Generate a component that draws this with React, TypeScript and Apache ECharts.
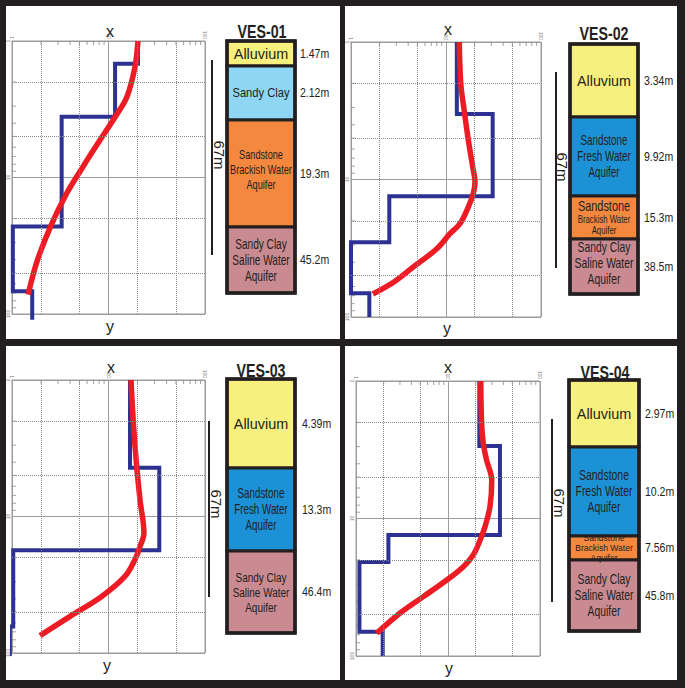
import React, { useEffect, useRef } from 'react';
import * as echarts from 'echarts';

// ---------------- DATA ----------------
const vesTitles = ['VES-01', 'VES-02', 'VES-03', 'VES-04'];
const scaleLabel = '67m';
const axisNameTop = 'x';
const axisNameBottom = 'y';

// lithology columns (top to bottom)
const ves01Layers = [['Alluvium'], ['Sandy Clay'], ['Sandstone', 'Brackish Water', 'Aquifer'], ['Sandy Clay', 'Saline Water', 'Aquifer']];
const ves01Types = ['alluvium', 'clay', 'brackish', 'saline'];
const ves01Thickness = ['1.47m', '2.12m', '19.3m', '45.2m'];

const ves02Layers = [['Alluvium'], ['Sandstone', 'Fresh Water', 'Aquifer'], ['Sandstone', 'Brackish Water', 'Aquifer'], ['Sandy Clay', 'Saline Water', 'Aquifer']];
const ves02Types = ['alluvium', 'fresh', 'brackish', 'saline'];
const ves02Thickness = ['3.34m', '9.92m', '15.3m', '38.5m'];

const ves03Layers = [['Alluvium'], ['Sandstone', 'Fresh Water', 'Aquifer'], ['Sandy Clay', 'Saline Water', 'Aquifer']];
const ves03Types = ['alluvium', 'fresh', 'saline'];
const ves03Thickness = ['4.39m', '13.3m', '46.4m'];

const ves04Layers = [['Alluvium'], ['Sandstone', 'Fresh Water', 'Aquifer'], ['Sandstone', 'Brackish Water', 'Aquifer'], ['Sandy Clay', 'Saline Water', 'Aquifer']];
const ves04Types = ['alluvium', 'fresh', 'brackish', 'saline'];
const ves04Thickness = ['2.97m', '10.2m', '7.56m', '45.8m'];

// interpreted model (blue): layer resistivity and depth of layer tops (+ bottom end)
const ves01Rho = [20.2, 11.7, 3.27, 1.02, 1.62];
const ves01Depth = [1, 1.47, 3.59, 22.9, 68.1, 110];
const ves02Rho = [13, 31, 2.53, 1.0, 1.56];
const ves02Depth = [1, 3.34, 13.26, 28.56, 67.06, 100];
const ves03Rho = [16.7, 33.6, 1.03, 0.95];
const ves03Depth = [1, 4.39, 17.69, 64, 105];
const ves04Rho = [21.9, 36.7, 2.25, 1.09, 1.95];
const ves04Depth = [1, 2.97, 13.17, 20.73, 66.53, 100];

// field curve (red)
const ves01CurveX = [20.2, 18.8, 15.5, 11.7, 8.2, 5.4, 3.7, 2.5, 1.8, 1.47];
const ves01CurveY = [1.0, 1.55, 2.57, 3.6, 5.3, 8.4, 13, 23, 42, 72];
const ves02CurveX = [13.8, 14.3, 15.5, 17.2, 19.1, 20.2, 19.4, 17.2, 14, 11, 8, 4.5, 2.8, 1.7];
const ves02CurveY = [1.0, 2.0, 3.1, 5.2, 8.1, 10.4, 12.6, 15.8, 21, 24.8, 31.9, 43.4, 55.9, 68];
const ves03CurveX = [17.1, 18.1, 19.6, 21.2, 23.3, 21.2, 18.8, 14.8, 8.5, 4.0, 1.95];
const ves03CurveY = [1.0, 2.07, 4.3, 7.55, 13.2, 16.6, 20.7, 27.5, 38.5, 53.9, 74.6];
const ves04CurveX = [22.7, 23.2, 24.2, 26.3, 29.9, 28.6, 25.2, 22.3, 18.8, 14.7, 9.7, 5.4, 3.0, 1.68];
const ves04CurveY = [1.0, 2.04, 2.85, 3.77, 5.26, 8.2, 11.5, 14.4, 18.4, 22.4, 28, 37, 48.9, 68.3];

// axis tick values
const axisMin = 1;
const axisMax = 100;
const dottedGrid = [2, 5, 20, 50];
const minorTicks = [2, 3, 4, 5, 6, 7, 8, 9, 20, 30, 40, 50, 60, 70, 80, 90];

// ---------------- STYLE / LAYOUT ----------------
const layerColors: Record<string, string> = {
  alluvium: '#f8f07e',
  clay: '#8fd6f4',
  brackish: '#f5883f',
  saline: '#c98a91',
  fresh: '#1d91d6',
};
const INK = '#231f20';
const GRIDC = '#9c9c9c';
const SANS = "'Liberation Sans', Arial, sans-serif";

const grids = [
  { left: 12, top: 41, width: 193, height: 273 },
  { left: 351, top: 42, width: 190, height: 275 },
  { left: 12, top: 380, width: 193, height: 273 },
  { left: 356, top: 381, width: 184, height: 275 },
];

// sizes: font size per line; sx: horizontal compression of each box label
const columnLayout = [
  {
    x: 227, w: 68, bounds: [41, 66, 120, 227, 293],
    sizes: [[15], [13], [13.5, 13.5, 13.5], [14, 14, 14]], sx: [0.96, 0.86, 0.68, 0.72], dy: [0, 0, -4, 0],
    thickX: 300, title: [262, 31], bar: [212, 60, 255], barLabel: [219, 155], xLab: [110, 31], yLab: [110, 326],
  },
  {
    x: 570, w: 68, bounds: [44, 117, 196, 239, 294],
    sizes: [[15], [14, 14, 14], [14, 10, 10], [14, 14, 14]], sx: [0.95, 0.7, 0.78, 0.74], dy: [0, 0, 0, -3],
    thickX: 644, title: [604, 33], bar: [556, 72, 268], barLabel: [562, 167], xLab: [448, 29], yLab: [447, 328],
  },
  {
    x: 227, w: 68, bounds: [379, 468, 551, 633],
    sizes: [[15], [14, 14, 14], [13.5, 13.5, 13.5]], sx: [0.96, 0.7, 0.74], dy: [0, 0, 0],
    thickX: 302, title: [261, 370], bar: [209, 421, 597], barLabel: [216, 504], xLab: [111, 367], yLab: [107, 665],
  },
  {
    x: 569, w: 70, bounds: [380, 447, 536, 560, 631],
    sizes: [[15], [14.5, 14.5, 14.5], [9, 9, 9], [14, 14, 14]], sx: [0.96, 0.72, 0.95, 0.74], dy: [0, 0, 0, 0],
    thickX: 645, title: [605, 372], bar: [552, 419, 602], barLabel: [559, 503], xLab: [448, 367], yLab: [449, 668],
  },
];

const panels = [
  { layers: ves01Layers, types: ves01Types, thick: ves01Thickness, rho: ves01Rho, depth: ves01Depth, cx: ves01CurveX, cy: ves01CurveY },
  { layers: ves02Layers, types: ves02Types, thick: ves02Thickness, rho: ves02Rho, depth: ves02Depth, cx: ves02CurveX, cy: ves02CurveY },
  { layers: ves03Layers, types: ves03Types, thick: ves03Thickness, rho: ves03Rho, depth: ves03Depth, cx: ves03CurveX, cy: ves03CurveY },
  { layers: ves04Layers, types: ves04Types, thick: ves04Thickness, rho: ves04Rho, depth: ves04Depth, cx: ves04CurveX, cy: ves04CurveY },
];

function buildOption() {
  const xAxis: any[] = [];
  const yAxis: any[] = [];
  const series: any[] = [];
  const graphic: any[] = [];

  panels.forEach((p, i) => {
    const axisCommon = {
      type: 'log',
      logBase: 10,
      min: axisMin,
      max: axisMax,
      gridIndex: i,
      axisLine: { show: true, lineStyle: { color: GRIDC, width: 1 } },
      axisTick: { show: false },
      axisLabel: { show: true, fontSize: 5, color: '#777', rotate: 90, margin: 2, fontFamily: SANS },
      splitLine: { show: true, lineStyle: { color: GRIDC, width: 1 } },
    };
    xAxis.push({ ...axisCommon, position: 'top' });
    yAxis.push({ ...axisCommon, inverse: true, position: 'left' });

    // dotted grid lines + minor ticks
    series.push({
      type: 'scatter',
      xAxisIndex: i,
      yAxisIndex: i,
      data: minorTicks.map((v) => [v, axisMin]),
      symbol: 'rect',
      symbolSize: [1, 4],
      symbolOffset: [0, 2],
      itemStyle: { color: '#8a8a8a' },
      silent: true,
      z: 1,
      markLine: {
        silent: true,
        symbol: ['none', 'none'],
        label: { show: false },
        lineStyle: { type: 'dotted', color: '#8a8a8a', width: 1 },
        data: dottedGrid.map((v) => ({ xAxis: v })).concat(dottedGrid.map((v) => ({ yAxis: v })) as any),
      },
    });
    series.push({
      type: 'scatter',
      xAxisIndex: i,
      yAxisIndex: i,
      data: minorTicks.map((v) => [axisMin, v]),
      symbol: 'rect',
      symbolSize: [4, 1],
      symbolOffset: [2, 0],
      itemStyle: { color: '#8a8a8a' },
      silent: true,
      z: 1,
    });

    // interpreted layered model (blue steps)
    series.push({
      type: 'line',
      xAxisIndex: i,
      yAxisIndex: i,
      step: 'start',
      data: p.depth.map((d, k) => [p.rho[Math.min(k, p.rho.length - 1)], d]),
      showSymbol: false,
      clip: false,
      lineStyle: { color: '#2c3192', width: 4, join: 'miter' },
      z: 3,
      silent: true,
    });
    // field curve (red)
    series.push({
      type: 'line',
      xAxisIndex: i,
      yAxisIndex: i,
      smooth: 0.35,
      data: p.cx.map((x, k) => [x, p.cy[k]]),
      showSymbol: false,
      clip: false,
      lineStyle: { color: '#ed1c24', width: 5.5, cap: 'butt' },
      z: 4,
      silent: true,
    });

    // lithology column
    const L = columnLayout[i];
    p.layers.forEach((lines, k) => {
      const y0 = L.bounds[k];
      const y1 = L.bounds[k + 1];
      graphic.push({
        type: 'rect',
        shape: { x: L.x, y: y0, width: L.w, height: y1 - y0 },
        style: { fill: layerColors[p.types[k]], stroke: INK, lineWidth: 3 },
        z: 10,
      });
      const sizes = L.sizes[k];
      const rich: any = {};
      const txt = lines
        .map((ln, j) => {
          const key = 's' + j;
          rich[key] = { fontSize: sizes[j], fontFamily: SANS, fill: INK, lineHeight: Math.round(sizes[j] * 1.12) };
          return `{${key}|${ln}}`;
        })
        .join('\n');
      graphic.push({
        type: 'text',
        x: L.x + L.w / 2,
        y: (y0 + y1) / 2 + L.dy[k],
        scaleX: L.sx[k],
        style: { text: txt, rich, textAlign: 'center', textVerticalAlign: 'middle', fill: INK },
        z: 11,
      });
      graphic.push({
        type: 'text',
        x: L.thickX,
        y: (y0 + y1) / 2,
        scaleX: 0.78,
        style: { text: p.thick[k], fontSize: 13.5, fontFamily: SANS, fill: INK, textAlign: 'left', textVerticalAlign: 'middle' },
        z: 11,
      });
    });
    graphic.push({
      type: 'rect',
      shape: { x: L.x, y: L.bounds[0], width: L.w, height: L.bounds[L.bounds.length - 1] - L.bounds[0] },
      style: { fill: 'none', stroke: INK, lineWidth: 3.5 },
      z: 12,
    });
    // title
    graphic.push({
      type: 'text',
      x: L.title[0],
      y: L.title[1],
      scaleX: 0.77,
      style: { text: vesTitles[i], fontSize: 18.5, fontWeight: 'bold', fontFamily: SANS, fill: INK, textAlign: 'center', textVerticalAlign: 'middle' },
      z: 13,
    });
    // scale bar
    graphic.push({
      type: 'line',
      shape: { x1: L.bar[0], y1: L.bar[1], x2: L.bar[0], y2: L.bar[2] },
      style: { stroke: INK, lineWidth: 2 },
      z: 10,
    });
    graphic.push({
      type: 'text',
      x: L.barLabel[0],
      y: L.barLabel[1],
      rotation: -Math.PI / 2,
      style: { text: scaleLabel, fontSize: 15, fontFamily: SANS, fill: INK, textAlign: 'center', textVerticalAlign: 'middle' },
      z: 10,
    });
    // axis names
    graphic.push({
      type: 'text',
      x: L.xLab[0],
      y: L.xLab[1],
      style: { text: axisNameTop, fontSize: 16, fontFamily: SANS, fill: INK, textAlign: 'center', textVerticalAlign: 'middle' },
      z: 10,
    });
    graphic.push({
      type: 'text',
      x: L.yLab[0],
      y: L.yLab[1],
      style: { text: axisNameBottom, fontSize: 16, fontFamily: SANS, fill: INK, textAlign: 'center', textVerticalAlign: 'middle' },
      z: 10,
    });
  });

  // frames
  const frames = [
    [0, 0, 6, 688],
    [0, 0, 685, 6],
    [677, 0, 8, 688],
    [0, 680, 685, 8],
    [340, 0, 5, 688],
    [0, 339, 685, 7],
  ];
  frames.forEach((f) => {
    graphic.push({ type: 'rect', shape: { x: f[0], y: f[1], width: f[2], height: f[3] }, style: { fill: INK }, z: 20 });
  });

  return {
    animation: false,
    backgroundColor: '#ffffff',
    grid: grids.map((g) => ({ ...g, show: true, borderColor: GRIDC, borderWidth: 1, containLabel: false })),
    xAxis,
    yAxis,
    series,
    graphic: { elements: graphic },
  };
}

export default function App() {
  const ref = useRef<HTMLDivElement>(null);
  useEffect(() => {
    const chart = echarts.init(ref.current!, null, { renderer: 'svg' });
    chart.setOption(buildOption() as any);
    return () => chart.dispose();
  }, []);
  return <div ref={ref} style={{ position: 'absolute', left: 0, top: 0, width: 685, height: 688, background: '#fff' }} />;
}
